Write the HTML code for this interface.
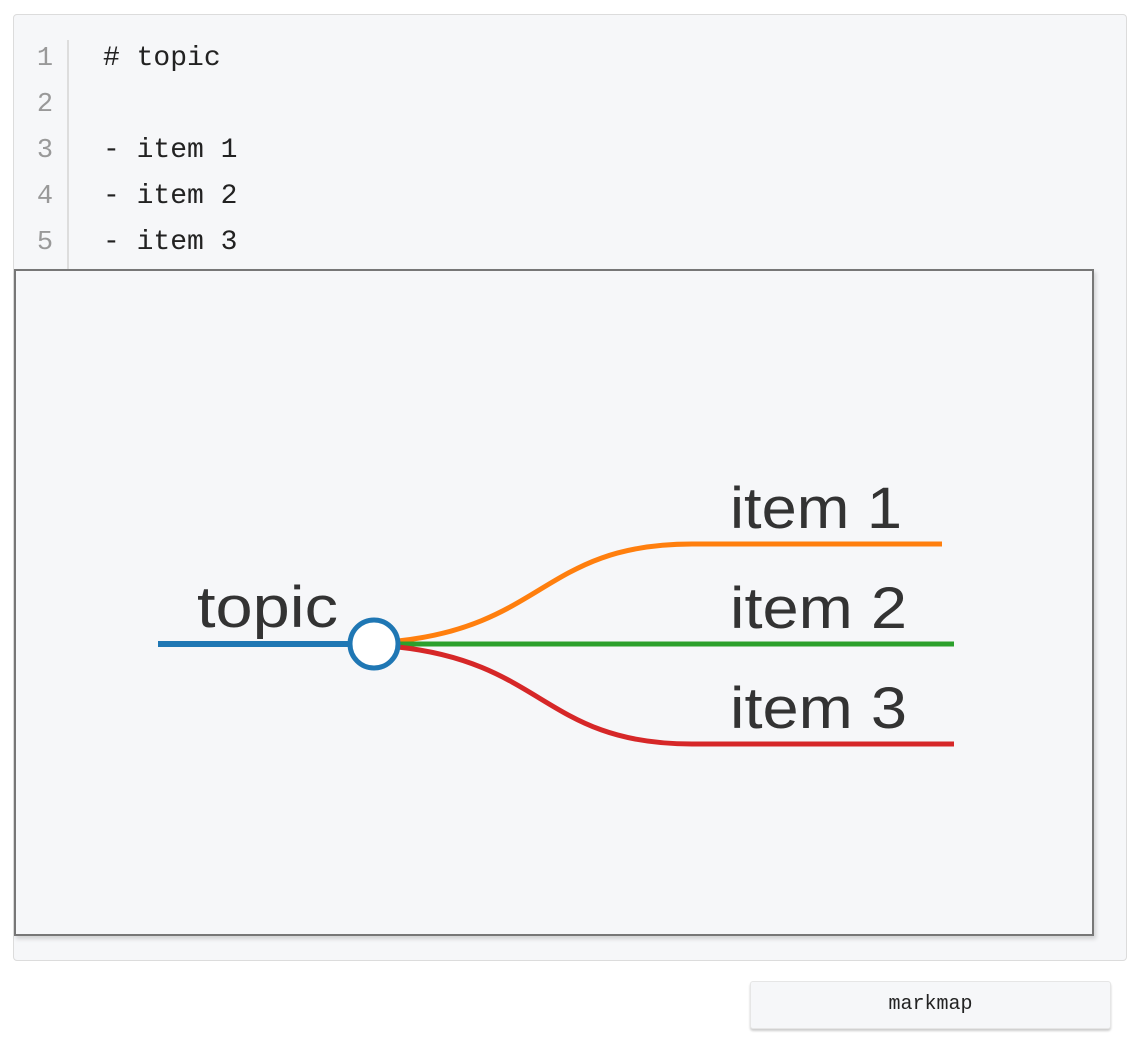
<!DOCTYPE html>
<html><head><style>
body{margin:0;width:1138px;height:1038px;background:#fff;position:relative;overflow:hidden;font-family:"Liberation Sans",sans-serif}
.outer{position:absolute;left:13px;top:14px;width:1112px;height:945px;border:1px solid #dcdcdc;border-radius:4px;background:#f6f7f9}
.gut{position:absolute;left:67px;top:40px;width:2px;height:229px;background:#ddd}
.ln{position:absolute;left:30px;width:30px;text-align:center;color:#999;font:27px "Liberation Mono",monospace}
.code{position:absolute;left:103px;color:#222;font:28px "Liberation Mono",monospace;white-space:pre}
.map{position:absolute;left:14px;top:269px;width:1076px;height:663px;border:2px solid #777;background:#f6f7f9;box-shadow:2px 3px 4px rgba(0,0,0,.15)}
.btn{position:absolute;left:750px;top:981px;width:359px;height:46px;border:1px solid #e6e6e6;border-radius:3px;background:#f6f7f9;box-shadow:0 2px 2px rgba(0,0,0,.2);text-align:center;font:20px/46px "Liberation Mono",monospace;color:#222}
</style></head><body>
<div class="outer"></div>
<div class="gut"></div>
<div class="ln" style="top:44px">1</div><div class="code" style="top:43px"># topic</div>
<div class="ln" style="top:90px">2</div>
<div class="ln" style="top:136px">3</div><div class="code" style="top:135px">- item 1</div>
<div class="ln" style="top:182px">4</div><div class="code" style="top:181px">- item 2</div>
<div class="ln" style="top:228px">5</div><div class="code" style="top:227px">- item 3</div>
<div class="map"></div>
<svg style="position:absolute;left:0;top:0" width="1138" height="1038">
<g font-family="Liberation Sans, sans-serif" font-size="58" fill="#333" font-weight="300">
<text x="197" y="627" textLength="141" lengthAdjust="spacingAndGlyphs">topic</text>
<text x="730" y="528" textLength="172" lengthAdjust="spacingAndGlyphs">item 1</text>
<text x="730" y="628" textLength="177" lengthAdjust="spacingAndGlyphs">item 2</text>
<text x="730" y="728" textLength="177" lengthAdjust="spacingAndGlyphs">item 3</text>
</g>
<path d="M398 641 C545 625 545 544 692 544 L942 544" stroke="#ff7f0e" stroke-width="5" fill="none"/>
<path d="M398 644 L954 644" stroke="#2ca02c" stroke-width="5" fill="none"/>
<path d="M398 647 C545 663 545 744 692 744 L954 744" stroke="#d62728" stroke-width="5" fill="none"/>
<path d="M158 644 L350 644" stroke="#1f77b4" stroke-width="6"/>
<circle cx="374" cy="644" r="24" fill="#fff" stroke="#1f77b4" stroke-width="5"/>
</svg>
<div class="btn">markmap</div>
</body></html>
